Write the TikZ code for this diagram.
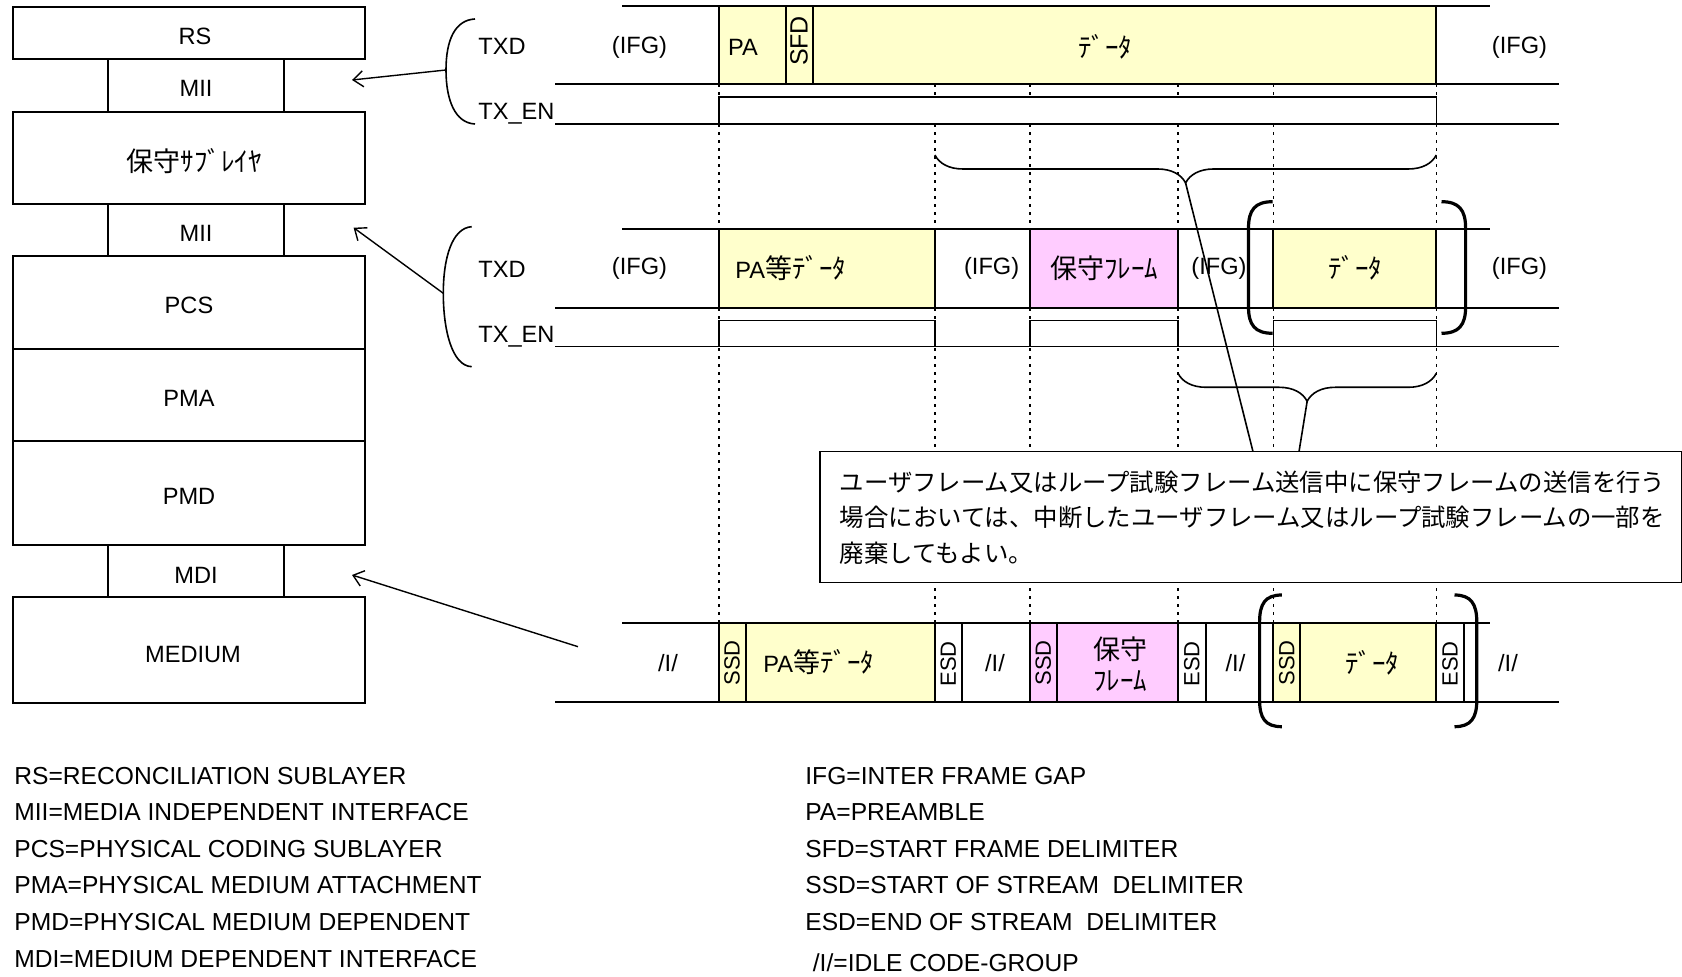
\documentclass[tikz,border=0pt]{standalone}
\usepackage{fontspec}
\setmainfont{Liberation Sans}
\newfontfamily\jpfont{Noto Sans CJK JP}
\usetikzlibrary{arrows.meta,decorations.pathreplacing}
\definecolor{fyel}{RGB}{255,255,204}
\definecolor{fpink}{RGB}{255,204,255}
\tikzset{
 lbl/.style={inner sep=0pt,font=\fontsize{11.8}{14}\selectfont},
 jlbl/.style={inner sep=0pt,font=\fontsize{13.5}{16}\selectfont\jpfont},
 rlbl/.style={inner sep=0pt,rotate=90,font=\fontsize{11}{13}\selectfont},
 leg/.style={inner sep=0pt,anchor=west,font=\fontsize{12.3}{14}\selectfont},
 notetxt/.style={inner sep=0pt,anchor=west,font=\fontsize{12.2}{14}\selectfont\jpfont},
 layerbox/.style={line width=1pt},
 sig/.style={line width=1pt},
 en/.style={line width=0.8pt},
 guide/.style={line width=0.8pt,dash pattern=on 1.5pt off 2.5pt},
 paren/.style={line width=0.8pt},
 bigparen/.style={line width=1.6pt},
 arr/.style={line width=0.7pt,-{Straight Barb[length=5pt,width=8pt]}},
 brc/.style={line width=0.8pt,decorate,decoration={brace,amplitude=14pt}},
 cellline/.style={line width=1pt},
}
\begin{document}
\begin{tikzpicture}[x=0.5pt,y=-0.5pt]
\useasboundingbox (0,0) rectangle (1682,977);
\fill[white] (0,0) rectangle (1682,977);

% ---------- layer stack ----------
\draw[layerbox] (13,7.3) rectangle (365,59.3);
\draw[layerbox] (108,59.3) rectangle (284,111.7);
\draw[layerbox] (13,111.7) rectangle (365,204);
\draw[layerbox] (108,204) rectangle (284,256);
\draw[layerbox] (13,256) rectangle (365,545);
\draw[layerbox] (13,349.3) -- (365,349.3);
\draw[layerbox] (13,440.7) -- (365,440.7);
\draw[layerbox] (108,545) rectangle (284,597);
\draw[layerbox] (13,597) rectangle (365,702.7);

\node[lbl] (rs) at (195,36) {RS};
\node[lbl] (mii1) at (196,88.5) {MII};
\node[jlbl] (msl) at (194,161) {保守ｻﾌﾞﾚｲﾔ};
\node[lbl] (mii2) at (196,233) {MII};
\node[lbl] (pcs) at (189,305) {PCS};
\node[lbl] (pma) at (189,398) {PMA};
\node[lbl] (pmd) at (189,496) {PMD};
\node[lbl] (mdi) at (196,575) {MDI};
\node[lbl] (med) at (193,655) {MEDIUM};

% ---------- guide dotted lines ----------
\foreach \x in {718.7,934.9,1029.8,1178,1273.4,1436.3}
  \draw[guide] (\x,84.3) -- (\x,622.7);

% ---------- row 1 ----------
\fill[fyel] (718.7,6) rectangle (1436.3,84.3);
\draw[sig] (622,6) -- (1490,6);
\draw[sig] (555,84.3) -- (1559,84.3);
\foreach \x in {718.7,785.7,812.5,1436.3}
  \draw[cellline] (\x,6) -- (\x,84.3);
\fill[white] (718.7,97.3) rectangle (1436.3,124);
\draw[en] (555,124) -- (1559,124);
\draw[en] (718.7,124) -- (718.7,97.3) -- (1436.3,97.3) -- (1436.3,124);

\node[lbl,anchor=west] (txd1) at (478,46) {TXD};
\node[lbl,anchor=west] (txen1) at (478,113.5) {TX\_EN};
\node[lbl] (ifg11) at (639.5,47.5) {(IFG)};
\node[lbl] (pa1) at (743,47) {PA};
\node[rlbl,font=\fontsize{12.5}{14}\selectfont] (sfd1) at (799,41) {SFD};
\node[jlbl] (data1) at (1105,47) {ﾃﾞｰﾀ};
\node[lbl] (ifg12) at (1519.5,47.5) {(IFG)};

% ---------- row 2 ----------
\fill[fyel] (718.7,229.3) rectangle (934.9,307.7);
\fill[fpink] (1029.8,229.3) rectangle (1178,307.7);
\fill[fyel] (1273.4,229.3) rectangle (1436.3,307.7);
\draw[sig] (622,229.3) -- (1490,229.3);
\draw[sig] (555,307.7) -- (1559,307.7);
\foreach \x in {718.7,934.9,1029.8,1178,1273.4,1436.3}
  \draw[cellline] (\x,229.3) -- (\x,307.7);
\fill[white] (718.7,320.7) rectangle (934.9,346.7);
\fill[white] (1029.8,320.7) rectangle (1178,346.7);
\fill[white] (1273.4,320.7) rectangle (1436.3,346.7);
\draw[en] (555,346.7) -- (1559,346.7);
\draw[en] (718.7,346.7) -- (718.7,320.7) -- (934.9,320.7) -- (934.9,346.7);
\draw[en] (1029.8,346.7) -- (1029.8,320.7) -- (1178,320.7) -- (1178,346.7);
\draw[en] (1273.4,346.7) -- (1273.4,320.7) -- (1436.3,320.7) -- (1436.3,346.7);

\node[lbl,anchor=west] (txd2) at (478,269) {TXD};
\node[lbl,anchor=west] (txen2) at (478,336.5) {TX\_EN};
\node[lbl] (ifg21) at (639.5,268.5) {(IFG)};
\node[inner sep=0pt,anchor=west,font=\fontsize{11.8}{14}\selectfont] (pa2) at (735,268) {PA{\fontsize{13.5}{16}\selectfont\jpfont 等ﾃﾞｰﾀ}};
\node[lbl] (ifg22) at (991.6,268.5) {(IFG)};
\node[jlbl] (mf2) at (1104,268) {保守ﾌﾚｰﾑ};
\node[lbl] (ifg23) at (1219,268.5) {(IFG)};
\node[jlbl] (data2) at (1355,268) {ﾃﾞｰﾀ};
\node[lbl] (ifg24) at (1519.5,268.5) {(IFG)};

% big parentheses row 2
\draw[bigparen] (1272.6,201.7) .. controls (1255,201.7) and (1248.5,210) .. (1248.5,228) -- (1248.5,307) .. controls (1248.5,325) and (1255,333.3) .. (1272.6,333.3);
\draw[bigparen] (1441.5,201.7) .. controls (1459,201.7) and (1465.6,210) .. (1465.6,228) -- (1465.6,307) .. controls (1465.6,325) and (1459,333.3) .. (1441.5,333.3);

% ---------- row 3 ----------
\fill[fyel] (718.7,622.7) rectangle (934.9,701.7);
\fill[fpink] (1029.8,622.7) rectangle (1178,701.7);
\fill[fyel] (1273.4,622.7) rectangle (1436.3,701.7);
\draw[sig] (622,622.7) -- (1490,622.7);
\draw[sig] (555,701.7) -- (1559,701.7);
\foreach \x in {718.7,745.5,934.9,961.7,1029.8,1056.6,1178,1205.8,1273.4,1300.4,1436.3,1463.8}
  \draw[cellline] (\x,622.7) -- (\x,701.7);

\node[lbl] (i31) at (668,663) {/I/};
\node[rlbl] (ssd31) at (732.1,663) {SSD};
\node[inner sep=0pt,anchor=west,font=\fontsize{11.8}{14}\selectfont] (pa3) at (763,662) {PA{\fontsize{13.5}{16}\selectfont\jpfont 等ﾃﾞｰﾀ}};
\node[rlbl] (esd31) at (948.3,664) {ESD};
\node[lbl] (i32) at (995,663) {/I/};
\node[rlbl] (ssd32) at (1043.2,663) {SSD};
\node[jlbl,anchor=west] (mf3a) at (1093,649.5) {保守};
\node[jlbl,anchor=west] (mf3b) at (1093,681) {ﾌﾚｰﾑ};
\node[rlbl] (esd32) at (1191.9,664) {ESD};
\node[lbl] (i33) at (1235.5,663) {/I/};
\node[rlbl] (ssd33) at (1286.9,663) {SSD};
\node[jlbl] (data3) at (1372,663) {ﾃﾞｰﾀ};
\node[rlbl] (esd33) at (1450,664) {ESD};
\node[lbl] (i34) at (1508,663) {/I/};

% big parentheses row 3
\draw[bigparen] (1281.9,595) .. controls (1265,595) and (1259.6,604) .. (1259.6,622) -- (1259.6,700) .. controls (1259.6,718) and (1265,726.7) .. (1281.9,726.7);
\draw[bigparen] (1454.5,595) .. controls (1471,595) and (1476.8,604) .. (1476.8,622) -- (1476.8,700) .. controls (1476.8,718) and (1471,726.7) .. (1454.5,726.7);

% ---------- left parentheses and arrows ----------
\coordinate (b1top) at (475,19);
\coordinate (b1) at (446,70);
\coordinate (b1bot) at (475,124);
\draw[paren] (b1top) .. controls (455,20) and (446,40) .. (b1) .. controls (446,100) and (455,123) .. (b1bot);
\coordinate (b2top) at (471.7,226.7);
\coordinate (b2) at (443.3,293.3);
\coordinate (b2bot) at (471.7,366.7);
\draw[paren] (b2top) .. controls (452,228) and (443.3,258) .. (b2) .. controls (443.3,330) and (452,366) .. (b2bot);
\coordinate (a1) at (352,80);
\coordinate (a2) at (353.6,227.7);
\coordinate (b3) at (578,646.7);
\coordinate (a3) at (352,575);
\draw[arr] (b1) -- (a1);
\draw[arr] (b2) -- (a2);
\draw[arr] (b3) -- (a3);

% ---------- curly braces ----------
\draw[brc] (1436.3,155) -- (934.9,155);
\draw[brc] (1436.3,373.3) -- (1178,373.3);
\coordinate (tipA) at (1185.6,183);
\coordinate (tipB) at (1307.2,401);
\coordinate (noteA) at (1253,451.7);
\coordinate (noteB) at (1299,451.7);
\draw[line width=0.8pt] (tipA) -- (noteA);
\draw[line width=0.8pt] (tipB) -- (noteB);

% ---------- callout ----------
\draw[line width=0.8pt,fill=white] (819.7,451.7) rectangle (1681.5,582.7);
\node[notetxt] (n1) at (839.4,482.5) {ユーザフレーム又はループ試験フレーム送信中に保守フレームの送信を行う};
\node[notetxt] (n2) at (839.4,517.5) {場合においては、中断したユーザフレーム又はループ試験フレームの一部を};
\node[notetxt] (n3) at (839.4,553) {廃棄してもよい。};

% ---------- legend ----------
\node[leg] (l1) at (14,776) {RS=RECONCILIATION SUBLAYER};
\node[leg] (l2) at (14,812.5) {MII=MEDIA INDEPENDENT INTERFACE};
\node[leg] (l3) at (14,849) {PCS=PHYSICAL CODING SUBLAYER};
\node[leg] (l4) at (14,885.5) {PMA=PHYSICAL MEDIUM ATTACHMENT};
\node[leg] (l5) at (14,922) {PMD=PHYSICAL MEDIUM DEPENDENT};
\node[leg] (l6) at (14,959) {MDI=MEDIUM DEPENDENT INTERFACE};
\node[leg] (r1) at (805,776) {IFG=INTER FRAME GAP};
\node[leg] (r2) at (805,812.5) {PA=PREAMBLE};
\node[leg] (r3) at (805,849) {SFD=START FRAME DELIMITER};
\node[leg] (r4) at (805,885.5) {SSD=START OF STREAM\ \ DELIMITER};
\node[leg] (r5) at (805,922) {ESD=END OF STREAM\ \ DELIMITER};
\node[leg] (r6) at (812.5,963) {/I/=IDLE CODE-GROUP};
\end{tikzpicture}
\end{document}
